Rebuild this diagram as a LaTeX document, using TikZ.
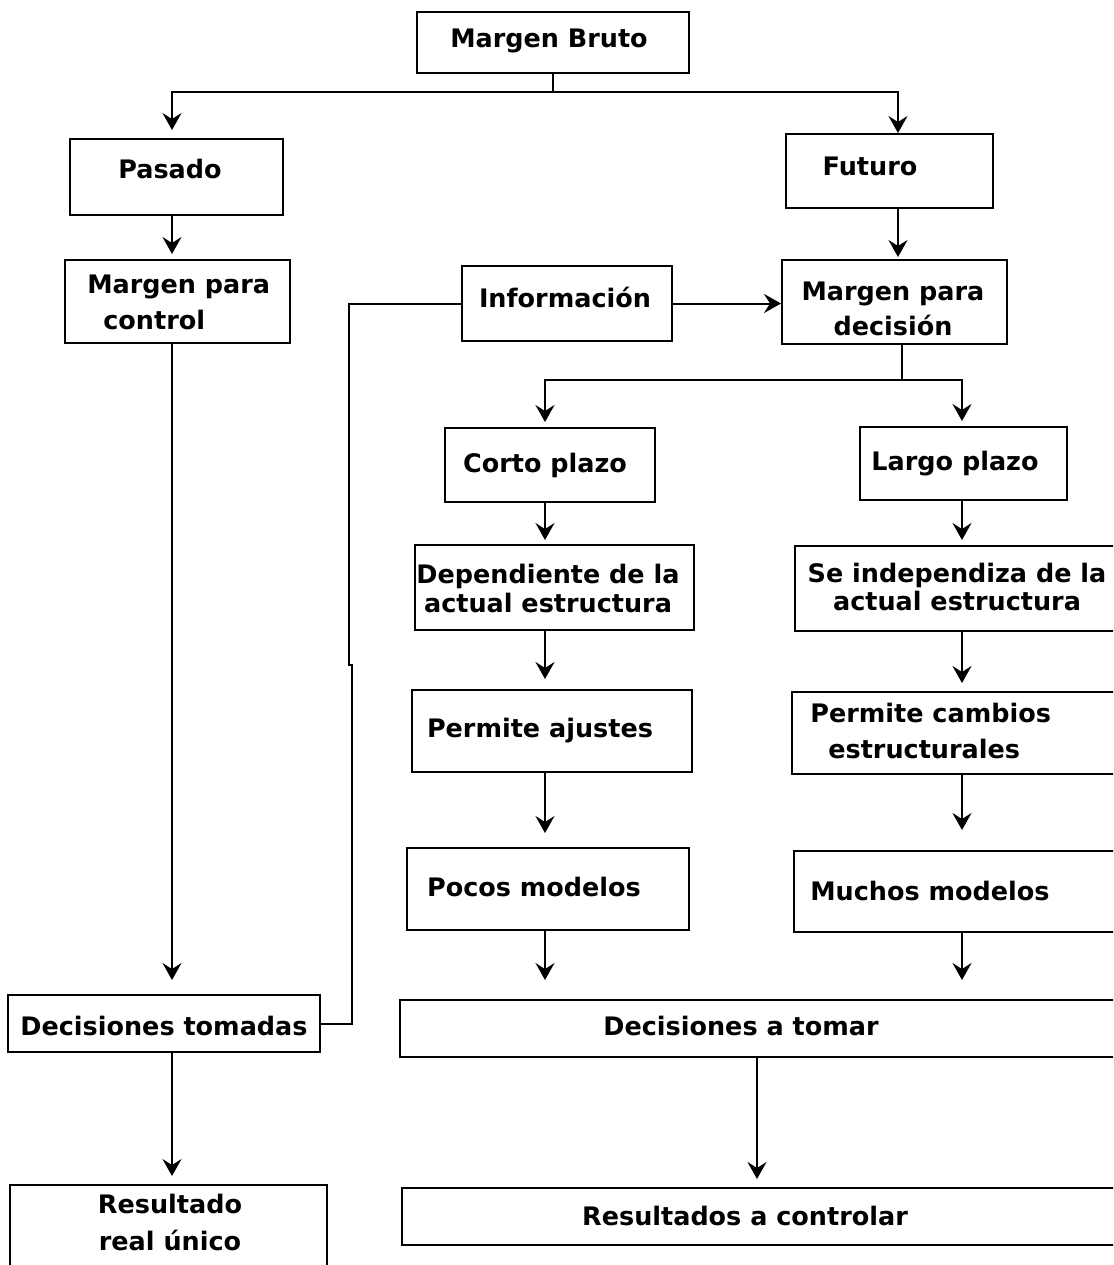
\documentclass[tikz,border=0pt]{standalone}
\usepackage{fontspec}
\setmainfont{DejaVu Sans}
\usetikzlibrary{arrows.meta}
\begin{document}
\begin{tikzpicture}[x=0.02cm,y=-0.02cm,
  box/.style={draw, line width=0.04cm, inner sep=0pt},
  txt/.style={inner sep=0pt, anchor=base, font=\fontsize{14.5pt}{17pt}\selectfont\bfseries},
  two/.style={align=center},
  line/.style={line width=0.04cm},
  arr/.style={line, -{Stealth[length=0.34cm,width=0.38cm,inset=0.12cm]}},
]
\useasboundingbox (0,0) rectangle (1113,1265);
\clip (0,0) rectangle (1113,1265);
\fill[white] (0,0) rectangle (1113,1265);

% boxes
\node[box, minimum width=5.44cm, minimum height=1.22cm] (mb)   at (553,42.5)    {};
\node[box, minimum width=4.26cm, minimum height=1.52cm] (pas)  at (176.5,177)   {};
\node[box, minimum width=4.14cm, minimum height=1.48cm] (fut)  at (889.5,171)   {};
\node[box, minimum width=4.50cm, minimum height=1.66cm] (mpc)  at (177.5,301.5) {};
\node[box, minimum width=4.20cm, minimum height=1.50cm] (inf)  at (567,303.5)   {};
\node[box, minimum width=4.50cm, minimum height=1.68cm] (mpd)  at (894.5,302)   {};
\node[box, minimum width=4.20cm, minimum height=1.48cm] (cp)   at (550,465)     {};
\node[box, minimum width=4.14cm, minimum height=1.46cm] (lp)   at (963.5,463.5) {};
\node[box, minimum width=5.58cm, minimum height=1.70cm] (dep)  at (554.5,587.5) {};
\node[box, minimum width=6.60cm, minimum height=1.70cm] (ind)  at (960,588.5)   {};
\node[box, minimum width=5.60cm, minimum height=1.64cm] (paj)  at (552,731)     {};
\node[box, minimum width=6.66cm, minimum height=1.64cm] (pcam) at (958.5,733)   {};
\node[box, minimum width=5.64cm, minimum height=1.64cm] (poc)  at (548,889)     {};
\node[box, minimum width=6.62cm, minimum height=1.62cm] (much) at (959.5,891.5) {};
\node[box, minimum width=14.50cm, minimum height=1.14cm] (dat) at (762.5,1028.5) {};
\node[box, minimum width=14.46cm, minimum height=1.14cm] (rac) at (763.5,1216.5) {};
\node[box, minimum width=6.24cm, minimum height=1.14cm] (dt)   at (164,1023.5)  {};
\node[box, minimum width=6.34cm, minimum height=1.90cm] (rru)  at (168.5,1232.5) {};

% labels (multi-line labels are placed by the baseline of their last line)
\node[txt] (mb-t)  at (549,47)   {Margen Bruto};
\node[txt] (pas-t) at (170,178)  {Pasado};
\node[txt] (fut-t) at (870,175)  {Futuro};
\node[txt, align=left, anchor=base west, font=\fontsize{14.5pt}{20.4pt}\selectfont\bfseries]
  (mpc-t) at (87,329) {Margen para\\\hspace*{0.32cm}control};
\node[txt] (inf-t) at (565,307)  {Información};
\node[txt, two, font=\fontsize{14.5pt}{19.8pt}\selectfont\bfseries]
  (mpd-t) at (893,335) {Margen para\\decisión};
\node[txt] (cp-t)  at (545,472)  {Corto plazo};
\node[txt] (lp-t)  at (955,470)  {Largo plazo};
\node[txt, two, font=\fontsize{14.5pt}{16.4pt}\selectfont\bfseries]
  (dep-t) at (548,612) {Dependiente de la\\actual estructura};
\node[txt, two, font=\fontsize{14.5pt}{15.9pt}\selectfont\bfseries]
  (ind-t) at (957,610) {Se independiza de la\\actual estructura};
\node[txt] (paj-t) at (540,737)  {Permite ajustes};
\node[txt, align=left, anchor=base west, font=\fontsize{14.5pt}{20.4pt}\selectfont\bfseries]
  (pcam-t) at (810,758) {Permite cambios\\\hspace*{0.36cm}estructurales};
\node[txt] (poc-t)  at (534,896)  {Pocos modelos};
\node[txt] (much-t) at (930,900)  {Muchos modelos};
\node[txt] (dt-t)   at (164,1035) {Decisiones tomadas};
\node[txt] (dat-t)  at (741,1035) {Decisiones a tomar};
\node[txt] (rac-t)  at (745,1225) {Resultados a controlar};
\node[txt, two, font=\fontsize{14.5pt}{21pt}\selectfont\bfseries]
  (rru-t) at (170,1250) {Resultado\\real único};

% connectors
\coordinate (j1) at ([yshift=-0.36cm]mb.south);
\draw[line] (mb.south) -- (j1);
\draw[arr, shorten >=0.16cm] (j1) -| ([xshift=-0.09cm]pas.north);
\draw[arr] (j1) -| ([xshift=0.17cm]fut.north);

\draw[arr, shorten >=0.1cm] ([xshift=-0.09cm]pas.south) -- ([xshift=-0.09cm]pas.south |- mpc.north);
\draw[arr, shorten >=0.04cm] ([xshift=0.17cm]fut.south) -- ([xshift=0.17cm]fut.south |- mpd.north);

\draw[arr] (inf.east) -- (inf.east -| mpd.west);
\coordinate (k1) at (349,665);
\coordinate (k2) at (352,665);
\draw[line] (inf.west) -| (k1) -- (k2) |- (dt.east);

\draw[arr, shorten >=0.28cm] ([xshift=-0.11cm]mpc.south) -- ([xshift=-0.11cm]mpc.south |- dt.north);
\draw[arr, shorten >=0.16cm] ([xshift=0.16cm]dt.south) -- ([xshift=0.16cm]dt.south |- rru.north);

\coordinate (j2) at ([xshift=0.15cm,yshift=-0.7cm]mpd.south);
\draw[line] ([xshift=0.15cm]mpd.south) -- (j2);
\draw[arr, shorten >=0.1cm] (j2) -| ([xshift=-0.1cm]cp.north);
\draw[arr, shorten >=0.1cm] (j2) -| ([xshift=-0.03cm]lp.north);

\draw[arr, shorten >=0.08cm] ([xshift=-0.1cm]cp.south) -- ([xshift=-0.1cm]cp.south |- dep.north);
\draw[arr, shorten >=0.1cm] ([xshift=-0.03cm]lp.south) -- ([xshift=-0.03cm]lp.south |- ind.north);

\draw[arr, shorten >=0.2cm] ([xshift=-0.19cm]dep.south) -- ([xshift=-0.19cm]dep.south |- paj.north);
\draw[arr, shorten >=0.16cm] ([xshift=0.04cm]ind.south) -- ([xshift=0.04cm]ind.south |- pcam.north);

\draw[arr, shorten >=0.28cm] ([xshift=-0.14cm]paj.south) -- ([xshift=-0.14cm]paj.south |- poc.north);
\draw[arr, shorten >=0.4cm] ([xshift=0.07cm]pcam.south) -- ([xshift=0.07cm]pcam.south |- much.north);

\draw[arr, shorten >=0.38cm] ([xshift=-0.06cm]poc.south) -- ([xshift=-0.06cm]poc.south |- dat.north);
\draw[arr, shorten >=0.38cm] ([xshift=0.05cm]much.south) -- ([xshift=0.05cm]much.south |- dat.north);

\draw[arr, shorten >=0.16cm] ([xshift=7.16cm]dat.south west) -- ([xshift=7.16cm]dat.south west |- rac.north);
\end{tikzpicture}
\end{document}
